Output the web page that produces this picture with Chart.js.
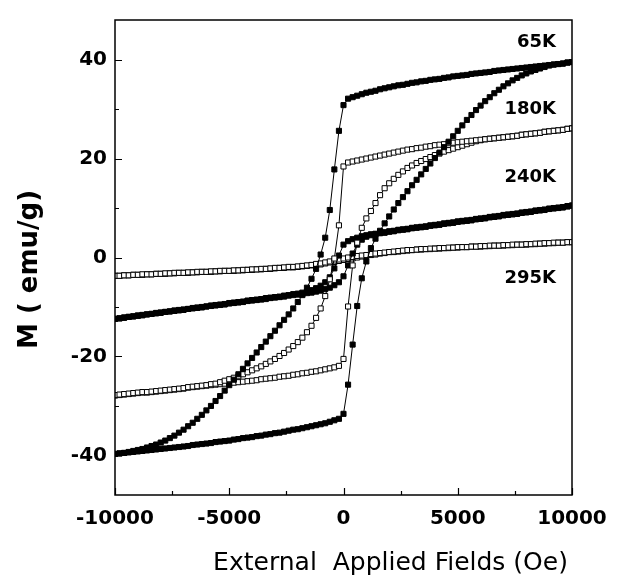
<!DOCTYPE html>
<html><head><meta charset="utf-8">
<script src="https://cdn.jsdelivr.net/npm/chart.js@4.4.1/dist/chart.umd.min.js"></script>
<style>html,body{margin:0;padding:0;background:#fff;}canvas{display:block;}</style>
</head><body>
<canvas id="c" width="620" height="580"></canvas>
<script>
// Applied field (Oe), shared by every branch, in increasing order
const FIELD_OE = [
-10000,-9800,-9600,-9400,-9200,-9000,-8800,-8600,-8400,-8200,
-8000,-7800,-7600,-7400,-7200,-7000,-6800,-6600,-6400,-6200,
-6000,-5800,-5600,-5400,-5200,-5000,-4800,-4600,-4400,-4200,
-4000,-3800,-3600,-3400,-3200,-3000,-2800,-2600,-2400,-2200,
-2000,-1800,-1600,-1400,-1200,-1000,-800,-600,-400,-200,
0,200,400,600,800,1000,1200,1400,1600,1800,
2000,2200,2400,2600,2800,3000,3200,3400,3600,3800,
4000,4200,4400,4600,4800,5000,5200,5400,5600,5800,
6000,6200,6400,6600,6800,7000,7200,7400,7600,7800,
8000,8200,8400,8600,8800,9000,9200,9400,9600,9800,
10000];

// 65K loop (emu/g)
const M_65K_DOWN = [
-39.7,-39.6,-39.5,-39.3,-39.1,-38.9,-38.7,-38.4,-38.1,-37.8,
-37.4,-37.0,-36.5,-36.0,-35.4,-34.8,-34.1,-33.4,-32.6,-31.8,
-30.9,-30.0,-29.0,-28.0,-26.9,-25.8,-24.7,-23.6,-22.5,-21.4,
-20.3,-19.2,-18.1,-17.0,-15.9,-14.8,-13.7,-12.6,-11.5,-10.3,
-9.0,-7.6,-6.1,-4.3,-2.3,0.6,4.0,9.6,17.8,25.6,
30.8,32.1,32.4,32.7,33.0,33.3,33.5,33.7,34.0,34.2,
34.4,34.6,34.8,34.9,35.1,35.3,35.4,35.6,35.7,35.9,
36.0,36.1,36.3,36.4,36.6,36.7,36.8,36.9,37.1,37.2,
37.3,37.4,37.5,37.7,37.8,37.9,38.0,38.1,38.2,38.3,
38.4,38.5,38.6,38.7,38.8,38.9,39.0,39.1,39.2,39.4,
39.5];
const M_65K_UP = [
-39.7,-39.6,-39.5,-39.4,-39.3,-39.2,-39.1,-39.0,-38.9,-38.8,
-38.7,-38.6,-38.5,-38.4,-38.3,-38.2,-38.1,-37.9,-37.8,-37.7,
-37.6,-37.5,-37.3,-37.2,-37.1,-37.0,-36.8,-36.7,-36.5,-36.4,
-36.3,-36.1,-36.0,-35.8,-35.7,-35.5,-35.4,-35.2,-35.0,-34.8,
-34.7,-34.5,-34.3,-34.1,-33.9,-33.7,-33.5,-33.2,-32.9,-32.6,
-31.6,-25.7,-17.6,-9.8,-4.2,-0.8,1.9,3.8,5.4,6.9,
8.3,9.7,11.0,12.2,13.4,14.6,15.7,16.8,17.9,19.0,
20.1,21.2,22.3,23.4,24.5,25.6,26.7,27.8,28.8,29.8,
30.7,31.6,32.4,33.2,33.9,34.6,35.2,35.8,36.3,36.8,
37.2,37.6,37.9,38.2,38.5,38.8,39.0,39.1,39.2,39.4,
39.5];

// 180K loop (emu/g)
const M_180K_DOWN = [
-27.8,-27.7,-27.6,-27.5,-27.4,-27.3,-27.2,-27.2,-27.1,-27.0,
-26.9,-26.8,-26.7,-26.6,-26.5,-26.4,-26.2,-26.1,-26.0,-25.9,
-25.8,-25.6,-25.5,-25.2,-24.9,-24.6,-24.3,-24.0,-23.6,-23.2,
-22.8,-22.4,-22.0,-21.5,-21.0,-20.5,-19.9,-19.3,-18.6,-17.9,
-17.1,-16.2,-15.1,-13.8,-12.2,-10.3,-7.8,-4.4,-0.2,6.5,
18.4,19.2,19.4,19.6,19.8,20.0,20.2,20.4,20.6,20.8,
21.0,21.2,21.4,21.6,21.8,21.9,22.1,22.2,22.4,22.5,
22.7,22.8,22.9,23.1,23.2,23.3,23.4,23.5,23.6,23.7,
23.8,23.9,24.0,24.1,24.2,24.3,24.4,24.5,24.6,24.8,
24.9,25.0,25.1,25.2,25.4,25.5,25.6,25.7,25.8,26.0,
26.1];
const M_180K_UP = [
-27.9,-27.8,-27.7,-27.6,-27.5,-27.4,-27.3,-27.3,-27.2,-27.1,
-27.0,-26.9,-26.8,-26.7,-26.6,-26.5,-26.3,-26.2,-26.1,-26.0,
-25.9,-25.8,-25.7,-25.6,-25.5,-25.4,-25.3,-25.2,-25.1,-25.0,
-24.9,-24.8,-24.6,-24.5,-24.4,-24.3,-24.1,-24.0,-23.9,-23.7,
-23.6,-23.4,-23.3,-23.1,-23.0,-22.8,-22.6,-22.4,-22.2,-21.9,
-20.5,-9.9,-1.6,3.0,6.0,7.9,9.4,11.0,12.6,14.0,
15.0,15.9,16.7,17.4,18.1,18.6,19.1,19.5,19.9,20.3,
20.7,21.0,21.4,21.7,22.0,22.3,22.6,22.9,23.2,23.5,
23.7,23.9,24.0,24.1,24.2,24.3,24.4,24.5,24.6,24.8,
24.9,25.0,25.1,25.2,25.4,25.5,25.6,25.7,25.8,26.0,
26.1];

// 240K loop (emu/g)
const M_240K_DOWN = [
-12.4,-12.3,-12.1,-12.0,-11.9,-11.7,-11.6,-11.5,-11.4,-11.2,
-11.1,-11.0,-10.9,-10.7,-10.6,-10.5,-10.4,-10.2,-10.1,-10.0,
-9.9,-9.7,-9.6,-9.5,-9.4,-9.2,-9.1,-9.0,-8.9,-8.7,
-8.6,-8.5,-8.4,-8.2,-8.1,-8.0,-7.9,-7.7,-7.6,-7.4,
-7.3,-7.1,-6.9,-6.6,-6.2,-5.7,-5.0,-4.0,-2.2,0.4,
2.6,3.3,3.7,4.0,4.3,4.5,4.7,4.8,5.0,5.1,
5.3,5.4,5.6,5.7,5.8,6.0,6.1,6.2,6.3,6.5,
6.6,6.7,6.9,7.0,7.1,7.3,7.4,7.5,7.6,7.8,
7.9,8.0,8.2,8.3,8.4,8.6,8.7,8.8,8.9,9.1,
9.2,9.3,9.5,9.6,9.7,9.9,10.0,10.1,10.2,10.4,
10.5];
const M_240K_UP = [
-12.4,-12.3,-12.2,-12.0,-11.9,-11.8,-11.7,-11.5,-11.4,-11.3,
-11.2,-11.0,-10.9,-10.8,-10.7,-10.6,-10.4,-10.3,-10.2,-10.1,
-9.9,-9.8,-9.7,-9.6,-9.5,-9.3,-9.2,-9.1,-9.0,-8.8,
-8.7,-8.6,-8.5,-8.4,-8.2,-8.1,-8.0,-7.9,-7.7,-7.6,
-7.5,-7.4,-7.2,-7.1,-6.9,-6.7,-6.4,-6.1,-5.6,-5.0,
-3.8,-1.6,0.8,2.6,3.6,4.2,4.5,4.7,4.9,5.0,
5.2,5.3,5.5,5.6,5.7,5.9,6.0,6.1,6.2,6.4,
6.5,6.6,6.8,6.9,7.0,7.2,7.3,7.4,7.5,7.7,
7.8,7.9,8.1,8.2,8.3,8.5,8.6,8.7,8.8,9.0,
9.1,9.2,9.4,9.5,9.6,9.8,9.9,10.0,10.1,10.3,
10.5];

// 295K loop (emu/g)
const M_295K_DOWN = [
-3.7,-3.7,-3.6,-3.6,-3.5,-3.5,-3.4,-3.4,-3.4,-3.3,
-3.3,-3.2,-3.2,-3.1,-3.1,-3.1,-3.0,-3.0,-2.9,-2.9,
-2.9,-2.8,-2.8,-2.7,-2.7,-2.7,-2.6,-2.6,-2.5,-2.5,
-2.4,-2.4,-2.3,-2.3,-2.2,-2.1,-2.1,-2.0,-1.9,-1.9,
-1.8,-1.7,-1.6,-1.5,-1.3,-1.2,-1.0,-0.8,-0.6,-0.4,
-0.2,0.0,0.1,0.3,0.4,0.5,0.7,0.8,0.9,1.0,
1.1,1.2,1.3,1.4,1.5,1.5,1.6,1.7,1.7,1.8,
1.8,1.9,1.9,2.0,2.0,2.1,2.1,2.1,2.2,2.2,
2.3,2.3,2.4,2.4,2.4,2.5,2.5,2.6,2.6,2.6,
2.7,2.7,2.8,2.8,2.9,2.9,3.0,3.0,3.0,3.1,
3.1];
const M_295K_UP = [
-3.7,-3.7,-3.6,-3.6,-3.5,-3.5,-3.5,-3.4,-3.4,-3.3,
-3.3,-3.3,-3.2,-3.2,-3.1,-3.1,-3.1,-3.0,-3.0,-2.9,
-2.9,-2.9,-2.8,-2.8,-2.7,-2.7,-2.7,-2.6,-2.6,-2.5,
-2.5,-2.4,-2.4,-2.3,-2.3,-2.2,-2.1,-2.1,-2.0,-2.0,
-1.9,-1.8,-1.7,-1.6,-1.5,-1.4,-1.2,-1.0,-0.9,-0.7,
-0.5,-0.3,-0.2,0.0,0.2,0.3,0.5,0.6,0.8,0.9,
1.1,1.1,1.2,1.3,1.4,1.5,1.6,1.6,1.7,1.7,
1.8,1.8,1.9,1.9,2.0,2.0,2.1,2.1,2.2,2.2,
2.2,2.3,2.3,2.4,2.4,2.4,2.5,2.5,2.6,2.6,
2.6,2.7,2.7,2.8,2.8,2.9,2.9,3.0,3.0,3.1,
3.1];

// Axis ticks
const X_MAJOR = [-10000,-5000,0,5000,10000];
const X_MINOR = [-7500,-2500,2500,7500];
const Y_MAJOR = [-40,-20,0,20,40];
const Y_MINOR = [-30,-10,10,30];

// Text
const X_TITLE = 'External  Applied Fields (Oe)';
const Y_TITLE = 'M ( emu/g)';
const TEMP_LABELS = ['65K','180K','240K','295K'];
const TEMP_LABEL_X = [9300,9300,9300,9300];
const TEMP_LABEL_Y = [43.5,29.9,16.3,-4.3];

const SERIES = [
  {name:'65K', down:M_65K_DOWN, up:M_65K_UP, filled:true},
  {name:'180K', down:M_180K_DOWN, up:M_180K_UP, filled:false},
  {name:'240K', down:M_240K_DOWN, up:M_240K_UP, filled:true},
  {name:'295K', down:M_295K_DOWN, up:M_295K_UP, filled:false}
];

function toPoints(vals){ return FIELD_OE.map((h,i)=>({x:h, y:vals[i]})); }

const datasets = [];
SERIES.forEach(s=>{
  [['down',s.down],['up',s.up]].forEach(([dir,vals])=>{
    datasets.push({
      label: s.name + ' ' + dir,
      data: toPoints(vals),
      showLine: true,
      borderColor: '#000',
      borderWidth: 1,
      pointStyle: 'rect',
      pointRadius: 3.6,
      pointBorderWidth: 1,
      pointBorderColor: '#000',
      pointBackgroundColor: s.filled ? '#000' : '#fff',
      tension: 0
    });
  });
});

const FONT = '"DejaVu Sans", "Liberation Sans", sans-serif';

const decor = {
  id: 'decor',
  beforeDraw(chart){
    const c = chart.ctx;
    c.save(); c.fillStyle = '#fff'; c.fillRect(0,0,chart.width,chart.height); c.restore();
  },
  afterDatasetsDraw(chart){
    const c = chart.ctx, a = chart.chartArea, xs = chart.scales.x, ys = chart.scales.y;
    c.save();
    c.strokeStyle = '#000';
    c.lineWidth = 1.2;
    c.beginPath();
    X_MAJOR.forEach(v=>{ const p = Math.round(xs.getPixelForValue(v))+0.5; c.moveTo(p, a.bottom); c.lineTo(p, a.bottom-7); });
    X_MINOR.forEach(v=>{ const p = Math.round(xs.getPixelForValue(v))+0.5; c.moveTo(p, a.bottom); c.lineTo(p, a.bottom-4); });
    Y_MAJOR.forEach(v=>{ const p = Math.round(ys.getPixelForValue(v))+0.5; c.moveTo(a.left, p); c.lineTo(a.left+7, p); });
    Y_MINOR.forEach(v=>{ const p = Math.round(ys.getPixelForValue(v))+0.5; c.moveTo(a.left, p); c.lineTo(a.left+4, p); });
    c.stroke();
    c.lineWidth = 1.5;
    c.strokeRect(a.left, a.top, a.right-a.left, a.bottom-a.top);
    // temperature labels
    c.fillStyle = '#000';
    c.font = 'bold 18px ' + FONT;
    c.textAlign = 'right';
    c.textBaseline = 'middle';
    TEMP_LABELS.forEach((t,i)=>{
      c.fillText(t, xs.getPixelForValue(TEMP_LABEL_X[i]), ys.getPixelForValue(TEMP_LABEL_Y[i]));
    });
    // axis titles
    c.textAlign = 'center';
    c.font = '25px ' + FONT;
    c.fillText(X_TITLE, (a.left+a.right)/2 + 47, 563);
    c.save();
    c.translate(30, (a.top+a.bottom)/2 + 12);
    c.rotate(-Math.PI/2);
    c.font = 'bold 26px ' + FONT;
    c.fillText(Y_TITLE, 0, 0);
    c.restore();
    c.restore();
  }
};

new Chart(document.getElementById('c'), {
  type: 'scatter',
  data: { datasets },
  options: {
    responsive: false,
    animation: false,
    layout: { padding: { top: 10, right: 48, bottom: 0, left: 0 } },
    plugins: { legend: { display: false }, tooltip: { enabled: false } },
    scales: {
      x: {
        type: 'linear', position: 'bottom', min: -10000, max: 10000,
        afterBuildTicks: s => { s.ticks = X_MAJOR.map(v=>({value:v})); },
        afterFit: s => { s.height = 85; },
        grid: { display: false, drawTicks: false },
        border: { display: false },
        ticks: { color:'#000', padding: 12, maxRotation: 0, autoSkip: false,
                 font: { family: FONT, weight: 'bold', size: 20 },
                 callback: v => String(v) }
      },
      y: {
        type: 'linear', position: 'left', min: -48, max: 48,
        afterBuildTicks: s => { s.ticks = Y_MAJOR.map(v=>({value:v})); },
        afterFit: s => { s.width = 115; },
        grid: { display: false, drawTicks: false },
        border: { display: false },
        ticks: { color:'#000', padding: 8, autoSkip: false,
                 font: { family: FONT, weight: 'bold', size: 20 },
                 callback: v => String(v) }
      }
    }
  },
  plugins: [decor]
});
</script>
</body></html>
